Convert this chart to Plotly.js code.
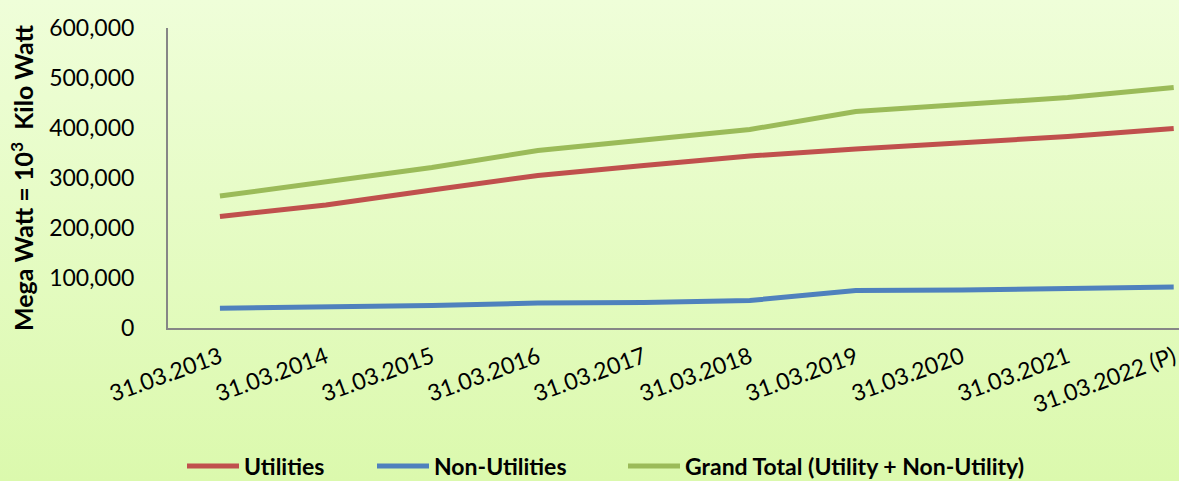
<!DOCTYPE html>
<html>
<head>
<meta charset="utf-8">
<script src="https://cdn.plot.ly/plotly-3.0.1.min.js"></script>
<style>
  html, body { margin: 0; padding: 0; }
  body { width: 1179px; height: 481px; background: linear-gradient(to bottom, #effed9 0%, #dbf9ad 100%); overflow: hidden; }
  #chart { width: 1179px; height: 481px; }
</style>
</head>
<body>
<div id="chart"></div>
<script>
const categories = ["31.03.2013", "31.03.2014", "31.03.2015", "31.03.2016", "31.03.2017",
                    "31.03.2018", "31.03.2019", "31.03.2020", "31.03.2021", "31.03.2022 (P)"];
const utilities    = [223000, 246000, 276000, 305000, 325000, 344000, 358000, 371000, 383000, 399000];
const nonUtilities = [39500, 41500, 45000, 50000, 51000, 55000, 75000, 76000, 79000, 82000];
const grandTotal   = [264000, 293000, 321000, 355000, 377000, 397000, 433000, 448000, 461000, 481000];
const yTicks = [0, 100000, 200000, 300000, 400000, 500000, 600000];
const yTickText = ["0", "100,000", "200,000", "300,000", "400,000", "500,000", "600,000"];

const FONT = "Lato, 'Open Sans', sans-serif";

const traces = [
  { x: categories, y: utilities, name: "Utilities", type: "scatter", mode: "lines",
    line: { color: "#c0504d", width: 5 }, legend: "legend" },
  { x: categories, y: nonUtilities, name: "Non-Utilities", type: "scatter", mode: "lines",
    line: { color: "#4f81bd", width: 5 }, legend: "legend2" },
  { x: categories, y: grandTotal, name: "Grand Total (Utility + Non-Utility)", type: "scatter", mode: "lines",
    line: { color: "#9bbb59", width: 5 }, legend: "legend3" }
];

const legendBase = {
  orientation: "h", xref: "container", yref: "container", xanchor: "left", yanchor: "middle",
  y: 1 - 466 / 481, bgcolor: "rgba(0,0,0,0)", borderwidth: 0, itemwidth: 52,
  font: { family: FONT, size: 23, weight: "bold", color: "#000" }
};

const layout = {
  width: 1179, height: 481,
  margin: { l: 168, r: 0, t: 28, b: 153, pad: 0 },
  paper_bgcolor: "rgba(0,0,0,0)",
  plot_bgcolor: "rgba(0,0,0,0)",
  font: { family: FONT, size: 20, color: "#000" },
  xaxis: {
    type: "category", range: [-0.49, 9.05],
    showline: true, linecolor: "#868686", linewidth: 2,
    showgrid: false, zeroline: false, ticks: "",
    tickangle: -20, ticklabelstandoff: 5,
    tickfont: { family: FONT, size: 23, color: "#000" }
  },
  yaxis: {
    range: [0, 600000], tickvals: yTicks, ticktext: yTickText,
    showline: true, linecolor: "#868686", linewidth: 2,
    showgrid: false, zeroline: false, ticks: "",
    ticklabelstandoff: 27,
    tickfont: { family: FONT, size: 23, color: "#000" },
    title: { text: "Mega Watt = 10<sup>3</sup>  Kilo Watt", standoff: 8,
             font: { family: FONT, size: 25, weight: "bold", color: "#000" } }
  },
  showlegend: true,
  legend: Object.assign({}, legendBase, { x: 182 / 1179 }),
  legend2: Object.assign({}, legendBase, { x: 372 / 1179 }),
  legend3: Object.assign({}, legendBase, { x: 623 / 1179 })
};

Plotly.newPlot("chart", traces, layout, { staticPlot: true, displayModeBar: false });
</script>
</body>
</html>
